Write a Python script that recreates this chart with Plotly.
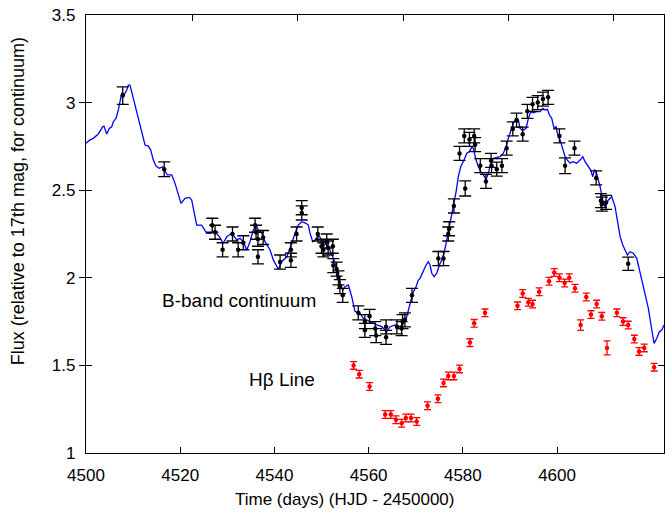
import plotly.graph_objects as go

# ---- B-band continuum model curve (blue line) ----
line_t = [4500.00, 4500.85, 4501.55, 4502.61, 4503.55, 4503.82, 4504.39, 4504.95, 4505.46, 4505.80,
          4506.37, 4506.86, 4507.58, 4508.07, 4508.64, 4508.98, 4509.34, 4509.70, 4510.19, 4510.76,
          4511.32, 4511.83, 4512.53, 4513.23, 4513.74, 4514.29, 4514.86, 4515.56, 4516.28, 4517.26,
          4518.20, 4518.90, 4519.60, 4520.17, 4521.02, 4521.93, 4522.44, 4522.99, 4523.50, 4524.56,
          4525.63, 4526.48, 4527.39, 4528.30, 4529.15, 4529.87, 4530.93, 4532.00, 4532.70, 4533.40,
          4534.12, 4534.82, 4535.52, 4536.09, 4536.58, 4537.30, 4538.00, 4539.07, 4539.77, 4540.83,
          4541.55, 4542.61, 4543.46, 4544.37, 4545.07, 4545.80, 4546.71, 4547.20, 4547.56, 4548.13,
          4548.62, 4549.32, 4549.83, 4550.38, 4550.96, 4551.44, 4551.95, 4552.38, 4552.87, 4553.57,
          4553.93, 4554.50, 4554.99, 4555.69, 4556.41, 4557.11, 4558.17, 4558.87, 4560.30, 4561.72,
          4562.78, 4563.84, 4564.54, 4565.61, 4566.67, 4567.37, 4568.09, 4568.79, 4569.36, 4570.06,
          4570.55, 4570.91, 4571.61, 4572.19, 4572.68, 4573.04, 4573.40, 4573.89, 4574.46, 4575.01,
          4575.52, 4576.01, 4576.58, 4577.28, 4577.98, 4578.56, 4579.04, 4579.55, 4580.25, 4580.83,
          4581.38, 4581.89, 4582.23, 4582.80, 4583.29, 4583.80, 4584.35, 4584.93, 4585.41, 4585.92,
          4586.48, 4587.20, 4587.90, 4588.60, 4589.17, 4589.66, 4590.17, 4590.72, 4591.30, 4591.78,
          4592.14, 4592.72, 4593.42, 4593.91, 4594.42, 4594.97, 4595.69, 4596.39, 4596.96, 4597.45,
          4597.94, 4598.37, 4598.87, 4599.36, 4599.79, 4600.06, 4600.64, 4601.21, 4601.70, 4602.19,
          4602.76, 4603.33, 4604.18, 4604.88, 4605.46, 4605.94, 4606.65, 4607.15, 4607.58, 4607.92,
          4608.28, 4608.77, 4609.13, 4609.70, 4610.19, 4610.89, 4611.61, 4612.31, 4612.80, 4613.38,
          4613.95, 4614.44, 4614.93, 4615.50, 4616.20, 4616.92, 4617.62, 4618.32, 4619.04, 4619.38,
          4620.11, 4620.59, 4621.17, 4621.72, 4622.23, 4622.72]
line_flux = [2.768, 2.787, 2.796, 2.821, 2.862, 2.866, 2.821, 2.853, 2.862, 2.891,
             2.910, 2.958, 3.053, 3.043, 3.072, 3.100, 3.100, 3.062, 2.996, 2.939,
             2.891, 2.825, 2.758, 2.752, 2.729, 2.672, 2.638, 2.625, 2.634, 2.587,
             2.587, 2.539, 2.482, 2.425, 2.454, 2.459, 2.444, 2.358, 2.301, 2.301,
             2.254, 2.254, 2.263, 2.235, 2.197, 2.235, 2.254, 2.216, 2.225, 2.206,
             2.159, 2.206, 2.273, 2.301, 2.273, 2.254, 2.206, 2.159, 2.102, 2.049,
             2.092, 2.120, 2.178, 2.254, 2.301, 2.320, 2.311, 2.301, 2.254, 2.206,
             2.216, 2.244, 2.225, 2.178, 2.197, 2.178, 2.149, 2.120, 2.083, 2.006,
             1.969, 1.930, 1.949, 1.959, 1.892, 1.807, 1.797, 1.769, 1.749, 1.731,
             1.721, 1.692, 1.721, 1.731, 1.721, 1.740, 1.778, 1.854, 1.912, 1.949,
             1.987, 1.997, 2.045, 2.073, 2.092, 2.073, 2.026, 2.006, 2.026, 2.073,
             2.102, 2.140, 2.216, 2.311, 2.406, 2.491, 2.577, 2.634, 2.672, 2.711,
             2.720, 2.745, 2.739, 2.672, 2.634, 2.606, 2.587, 2.562, 2.596, 2.654,
             2.682, 2.688, 2.691, 2.711, 2.748, 2.796, 2.844, 2.882, 2.910, 2.901,
             2.853, 2.840, 2.853, 2.910, 2.948, 2.942, 2.948, 2.948, 2.967, 2.958,
             2.962, 2.929, 2.910, 2.853, 2.862, 2.825, 2.787, 2.739, 2.691, 2.672,
             2.654, 2.663, 2.654, 2.672, 2.691, 2.663, 2.634, 2.615, 2.577, 2.615,
             2.606, 2.558, 2.520, 2.444, 2.406, 2.444, 2.463, 2.406, 2.330, 2.235,
             2.187, 2.159, 2.130, 2.149, 2.140, 2.111, 2.026, 1.949, 1.873, 1.826,
             1.702, 1.626, 1.655, 1.692, 1.702, 1.731]

# ---- B-band photometry (black points) ----
bband_t = [4507.8, 4516.6, 4526.8, 4527.4, 4529.0, 4531.1, 4532.3, 4533.4, 4535.9, 4536.1,
           4536.5, 4536.5, 4537.6, 4541.2, 4543.5, 4543.5, 4544.7, 4545.8, 4545.8, 4549.2,
           4550.0, 4550.4, 4551.1, 4551.4, 4552.4, 4552.5, 4553.2, 4553.6, 4553.9, 4554.5,
           4557.8, 4559.2, 4559.2, 4560.2, 4561.4, 4561.6, 4563.7, 4563.7, 4566.0, 4567.0,
           4567.2, 4567.7, 4569.2, 4574.8, 4575.9, 4576.9, 4577.1, 4578.1, 4579.3, 4580.5,
           4580.3, 4581.4, 4582.4, 4582.6, 4583.7, 4584.9, 4586.0, 4586.1, 4587.2, 4588.3,
           4589.3, 4590.6, 4591.4, 4592.7, 4593.7, 4594.8, 4595.9, 4597.0, 4598.1, 4600.5,
           4601.7, 4603.7, 4608.3, 4609.3, 4609.5, 4610.4, 4615.1]
bband_flux = [3.04, 2.62, 2.30, 2.26, 2.16, 2.25, 2.16, 2.20, 2.30, 2.26,
              2.22, 2.12, 2.23, 2.09, 2.16, 2.10, 2.25, 2.40, 2.37, 2.25,
              2.18, 2.16, 2.21, 2.17, 2.18, 2.07, 2.05, 2.00, 1.95, 1.90,
              1.80, 1.75, 1.70, 1.78, 1.71, 1.67, 1.72, 1.66, 1.72, 1.71,
              1.75, 1.76, 1.90, 2.11, 2.11, 2.25, 2.28, 2.41, 2.71, 2.51,
              2.81, 2.79, 2.81, 2.76, 2.64, 2.55, 2.67, 2.64, 2.62, 2.64,
              2.74, 2.85, 2.90, 2.82, 2.95, 2.99, 3.00, 3.02, 3.03, 2.81,
              2.64, 2.74, 2.57, 2.44, 2.42, 2.43, 2.08]
bband_err = [0.05, 0.042, 0.04, 0.04, 0.04, 0.04, 0.04, 0.04, 0.04, 0.04,
             0.04, 0.04, 0.04, 0.04, 0.04, 0.04, 0.04, 0.04, 0.04, 0.04,
             0.04, 0.04, 0.04, 0.04, 0.04, 0.04, 0.04, 0.04, 0.04, 0.04,
             0.04, 0.04, 0.04, 0.04, 0.04, 0.04, 0.04, 0.04, 0.04, 0.04,
             0.04, 0.04, 0.04, 0.04, 0.04, 0.04, 0.04, 0.04, 0.04, 0.043,
             0.04, 0.04, 0.04, 0.04, 0.04, 0.04, 0.04, 0.04, 0.04, 0.04,
             0.04, 0.04, 0.04, 0.04, 0.04, 0.04, 0.04, 0.04, 0.04, 0.04,
             0.045, 0.04, 0.04, 0.04, 0.04, 0.04, 0.038]

# ---- H-beta line fluxes (red points) ----
hb_t = [4556.8, 4558.0, 4560.2, 4563.5, 4564.7, 4565.8, 4567.0, 4567.9, 4569.0, 4570.2,
        4572.5, 4574.7, 4575.9, 4576.9, 4578.1, 4579.3, 4581.5, 4582.4, 4584.7, 4591.6,
        4592.7, 4593.9, 4594.8, 4596.2, 4598.3, 4599.4, 4600.5, 4601.6, 4602.6, 4603.8,
        4605.0, 4606.2, 4607.2, 4608.4, 4609.5, 4610.6, 4612.7, 4614.0, 4615.1, 4616.4,
        4617.4, 4618.5, 4620.6]
hb_flux = [1.50, 1.45, 1.38, 1.22, 1.22, 1.19, 1.17, 1.20, 1.20, 1.18,
           1.27, 1.31, 1.40, 1.44, 1.44, 1.48, 1.63, 1.74, 1.80, 1.84,
           1.91, 1.86, 1.85, 1.92, 1.98, 2.03, 2.00, 1.97, 2.00, 1.94,
           1.73, 1.89, 1.79, 1.85, 1.78, 1.60, 1.80, 1.75, 1.73, 1.65,
           1.58, 1.60, 1.49]
hb_err = [0.022, 0.022, 0.022, 0.022, 0.022, 0.022, 0.022, 0.022, 0.022, 0.022,
          0.022, 0.022, 0.022, 0.022, 0.022, 0.022, 0.022, 0.022, 0.022, 0.022,
          0.022, 0.022, 0.022, 0.022, 0.022, 0.022, 0.022, 0.022, 0.022, 0.022,
          0.03, 0.022, 0.022, 0.022, 0.022, 0.04, 0.022, 0.022, 0.022, 0.022,
          0.022, 0.022, 0.022]

x_ticks = [4500, 4520, 4540, 4560, 4580, 4600]
y_ticks = [1, 1.5, 2, 2.5, 3, 3.5]
y_ticklabels = ["1", "1.5", "2", "2.5", "3", "3.5"]
top_ticks = [4522.7, 4545.0, 4567.3, 4589.6, 4611.9]

FONT = "Liberation Sans, Arial, sans-serif"

fig = go.Figure()
fig.add_trace(go.Scatter(x=line_t, y=line_flux, mode="lines",
                         line=dict(color="#0000ff", width=1.3), hoverinfo="skip"))
fig.add_trace(go.Scatter(x=bband_t, y=bband_flux, mode="markers",
                         marker=dict(color="black", size=4.5),
                         error_y=dict(type="data", array=bband_err, color="black",
                                      thickness=1.3, width=6)))
fig.add_trace(go.Scatter(x=hb_t, y=hb_flux, mode="markers",
                         marker=dict(color="#ff0000", size=4.5),
                         error_y=dict(type="data", array=hb_err, color="#ff0000",
                                      thickness=1.3, width=3.5)))
# invisible trace on top axis to carry its ticks
fig.add_trace(go.Scatter(x=[4500], y=[1], xaxis="x2", mode="markers",
                         marker=dict(opacity=0), hoverinfo="skip"))

axis_common = dict(showgrid=False, zeroline=False, showline=True, linecolor="black",
                   linewidth=1.2, ticks="inside", ticklen=6, tickwidth=1,
                   tickcolor="black", tickfont=dict(family=FONT, size=17, color="black"))

x_range = [4500, 4622.7]
fig.update_layout(
    width=665, height=513,
    margin=dict(l=86, r=1, t=15, b=60),
    paper_bgcolor="white", plot_bgcolor="white",
    showlegend=False,
    xaxis=dict(range=x_range, tickvals=x_ticks, mirror=True, ticklabelstandoff=6,
               **axis_common),
    xaxis2=dict(range=x_range, overlaying="x", side="top", tickvals=top_ticks,
                showticklabels=False, showgrid=False, zeroline=False, showline=False,
                ticks="inside", ticklen=6, tickwidth=1, tickcolor="black"),
    yaxis=dict(range=[1, 3.5], tickvals=y_ticks, ticktext=y_ticklabels,
               mirror="allticks", ticklabelstandoff=6, **axis_common),
    annotations=[
        dict(text="Time (days) (HJD - 2450000)", xref="paper", yref="paper",
             x=0.448, y=-0.107, xanchor="center", yanchor="middle", showarrow=False,
             font=dict(family=FONT, size=17, color="black")),
        dict(text="Flux (relative to 17th mag, for continuum)", xref="paper", yref="paper",
             x=-0.1176, y=0.575, xanchor="center", yanchor="middle", showarrow=False,
             textangle=-90, font=dict(family=FONT, size=18, color="black")),
        dict(text="B-band continuum", x=4532.5, y=1.873, xref="x", yref="y",
             showarrow=False, xanchor="center", yanchor="middle",
             font=dict(family=FONT, size=19, color="black")),
        dict(text="Hβ Line", x=4541.6, y=1.422, xref="x", yref="y",
             showarrow=False, xanchor="center", yanchor="middle",
             font=dict(family=FONT, size=19, color="black")),
    ],
)

fig.write_html("out.html", config={"displayModeBar": False, "staticPlot": True})

# remove the browser's default page margin so the figure sits at the top-left corner
with open("out.html", "r", encoding="utf-8") as f:
    html = f.read()
html = html.replace("<head>", "<head><style>html,body{margin:0;padding:0;overflow:hidden;}</style>", 1)
with open("out.html", "w", encoding="utf-8") as f:
    f.write(html)
